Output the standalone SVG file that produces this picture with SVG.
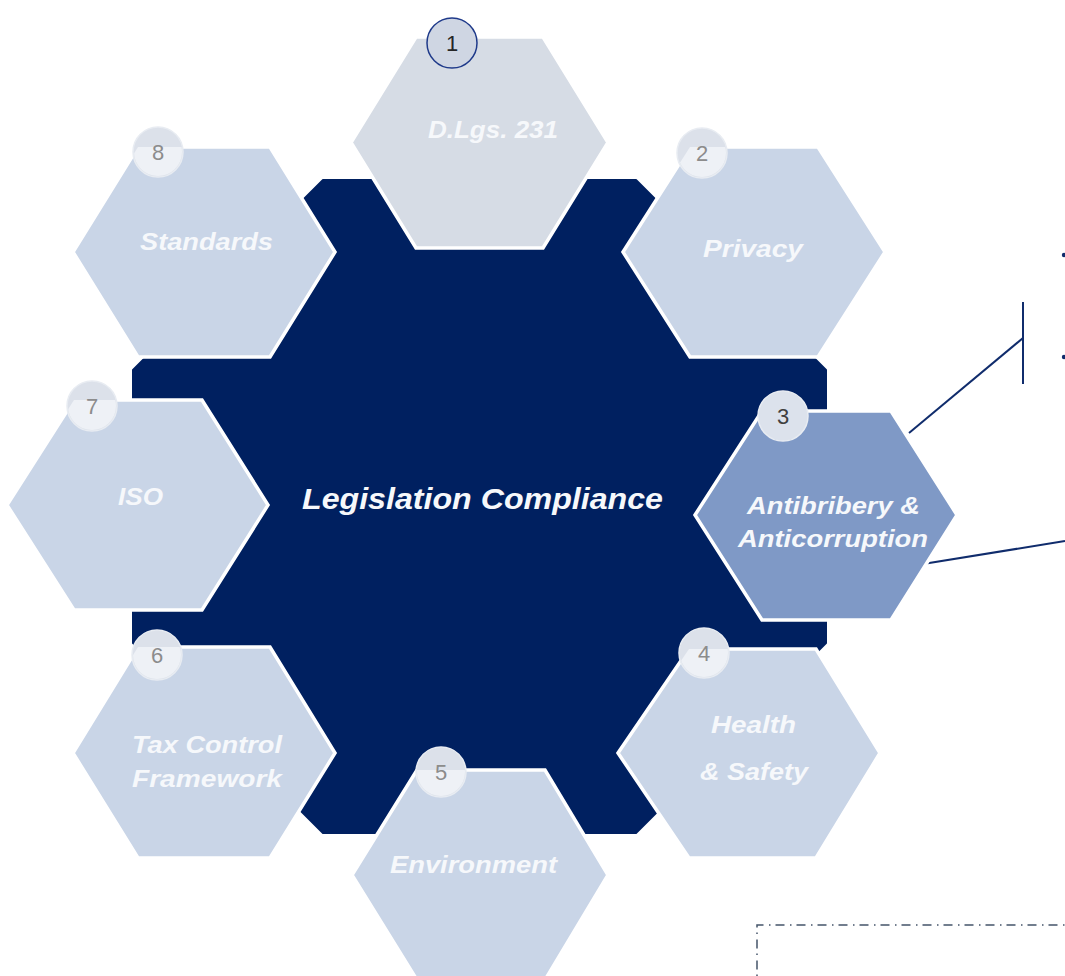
<svg xmlns="http://www.w3.org/2000/svg" xmlns:xlink="http://www.w3.org/1999/xlink" width="1065" height="976" viewBox="0 0 1065 976">
<style>
.hex{fill:#C9D5E7;stroke:#FFFFFF;stroke-width:3.5;stroke-linejoin:miter}
.hex1{fill:#D6DCE5}
.hex3{fill:#7F99C6}
.lbl{font-family:"Liberation Sans",Arial,sans-serif;font-weight:bold;font-style:italic;font-size:24px;fill:#F6F8FB;text-anchor:middle}
.num{font-family:"Liberation Sans",Arial,sans-serif;font-size:22px;fill:#8C8C8C;text-anchor:middle}
.bg{fill:#DCE1EA;stroke:#E8ECF2;stroke-width:1.5}
.bl{fill:#EEF1F6}
.conn{stroke:#102C6C;stroke-width:2;fill:none}
</style>
<defs>
<polygon id="p1" points="351,142.5 416,37 543,37 608,142.5 543,248 416,248"/>
<polygon id="p2" points="623,252 690,147 818,147 885,252 818,357 690,357"/>
<polygon id="p3" points="695,515 762,411 891,411 957,515 891,620 762,620"/>
<polygon id="p4" points="618,753 689,649 816,649 880,753 816,858 689,858"/>
<polygon id="p5" points="352,875 417,770 545,770 608,875 545,980 417,980"/>
<polygon id="p6" points="73,753 138,647 270,647 335,753 270,858 138,858"/>
<polygon id="p7" points="7,505 74,400 202,400 268,505 202,610 74,610"/>
<polygon id="p8" points="73,252 138,147 270,147 335,252 270,357 138,357"/>
<clipPath id="c2"><use xlink:href="#p2"/></clipPath>
<clipPath id="c4"><use xlink:href="#p4"/></clipPath>
<clipPath id="c5"><use xlink:href="#p5"/></clipPath>
<clipPath id="c6"><use xlink:href="#p6"/></clipPath>
<clipPath id="c7"><use xlink:href="#p7"/></clipPath>
<clipPath id="c8"><use xlink:href="#p8"/></clipPath>
</defs>
<rect x="0" y="0" width="1065" height="976" fill="#FFFFFF"/>

<g id="center">
<polygon points="323,180 636,180 826,370 826,643 636,833 323,833 133,643 133,370" fill="#002060" stroke="#002060" stroke-width="2" stroke-linejoin="round"/>
<text class="lbl" x="482.5" y="509" font-size="30" style="font-size:30px" textLength="361" lengthAdjust="spacingAndGlyphs">Legislation Compliance</text>
</g>

<g id="connectors">
<polyline class="conn" points="909,433 1023,338"/>
<line class="conn" x1="1023" y1="302" x2="1023" y2="384"/>
<line class="conn" x1="923" y1="564" x2="1065" y2="541"/>
<circle cx="1064" cy="255" r="2.2" fill="#102C6C"/>
<circle cx="1064" cy="357" r="2.2" fill="#102C6C"/>
<path d="M757,976 V925 H1065" fill="none" stroke="#44546A" stroke-width="1.5" stroke-dasharray="1.5 5 9 5.5"/>
</g>

<g id="node1">
<use xlink:href="#p1" class="hex hex1"/>
<circle cx="452" cy="43" r="25" fill="#CFD6E3" stroke="#1F3A8A" stroke-width="1.5"/>
<text class="num" x="452" y="51" style="fill:#262626">1</text>
<text class="lbl" x="493" y="138" textLength="130" lengthAdjust="spacingAndGlyphs">D.Lgs. 231</text>
</g>

<g id="node2">
<use xlink:href="#p2" class="hex"/>
<circle class="bg" cx="702" cy="153" r="25"/>
<circle class="bl" cx="702" cy="153" r="24" clip-path="url(#c2)"/>
<text class="num" x="702" y="161">2</text>
<text class="lbl" x="753" y="257" textLength="100" lengthAdjust="spacingAndGlyphs">Privacy</text>
</g>

<g id="node3">
<use xlink:href="#p3" class="hex hex3"/>
<circle cx="783" cy="416" r="25" fill="#DCE2EC" stroke="#E8ECF2" stroke-width="1.5"/>
<text class="num" x="783" y="424" style="fill:#404040">3</text>
<text class="lbl" x="833.5" y="514" textLength="173" lengthAdjust="spacingAndGlyphs">Antibribery &amp;</text>
<text class="lbl" x="833" y="547" textLength="190" lengthAdjust="spacingAndGlyphs">Anticorruption</text>
</g>

<g id="node4">
<use xlink:href="#p4" class="hex"/>
<circle class="bg" cx="704" cy="653" r="25"/>
<circle class="bl" cx="704" cy="653" r="24" clip-path="url(#c4)"/>
<text class="num" x="704" y="661">4</text>
<text class="lbl" x="753.5" y="733" textLength="85" lengthAdjust="spacingAndGlyphs">Health</text>
<text class="lbl" x="754" y="780" textLength="108" lengthAdjust="spacingAndGlyphs">&amp; Safety</text>
</g>

<g id="node5">
<use xlink:href="#p5" class="hex"/>
<circle class="bg" cx="441" cy="772" r="25"/>
<circle class="bl" cx="441" cy="772" r="24" clip-path="url(#c5)"/>
<text class="num" x="441" y="780">5</text>
<text class="lbl" x="473.5" y="873" textLength="167" lengthAdjust="spacingAndGlyphs">Environment</text>
</g>

<g id="node6">
<use xlink:href="#p6" class="hex"/>
<circle class="bg" cx="157" cy="655" r="25"/>
<circle class="bl" cx="157" cy="655" r="24" clip-path="url(#c6)"/>
<text class="num" x="157" y="663">6</text>
<text class="lbl" x="207" y="753" textLength="150" lengthAdjust="spacingAndGlyphs">Tax Control</text>
<text class="lbl" x="207" y="787" textLength="150" lengthAdjust="spacingAndGlyphs">Framework</text>
</g>

<g id="node7">
<use xlink:href="#p7" class="hex"/>
<circle class="bg" cx="92" cy="406" r="25"/>
<circle class="bl" cx="92" cy="406" r="24" clip-path="url(#c7)"/>
<text class="num" x="92" y="414">7</text>
<text class="lbl" x="140.5" y="505" textLength="45" lengthAdjust="spacingAndGlyphs">ISO</text>
</g>

<g id="node8">
<use xlink:href="#p8" class="hex"/>
<circle class="bg" cx="158" cy="152" r="25"/>
<circle class="bl" cx="158" cy="152" r="24" clip-path="url(#c8)"/>
<text class="num" x="158" y="160">8</text>
<text class="lbl" x="206.5" y="250" textLength="133" lengthAdjust="spacingAndGlyphs">Standards</text>
</g>
</svg>
